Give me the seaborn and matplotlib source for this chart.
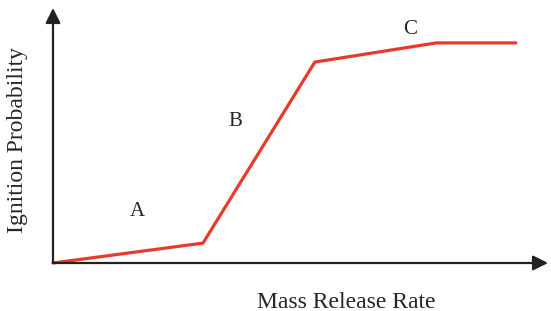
import pandas as pd
import matplotlib.pyplot as plt
import seaborn as sns

sns.set_style('white')
plt.rcParams['font.family'] = ['Liberation Serif', 'DejaVu Serif']

# curve corner points (arbitrary units, axes 0..10)
release_rate = [0, 3.03, 5.29, 7.74, 9.35]
ignition_prob = [0, 0.78, 7.88, 8.63, 8.63]
region_names = ['A', 'B', 'C']
region_x = [1.70, 3.68, 7.21]
region_y = [2.0, 5.53, 9.14]

df = pd.DataFrame({'rate': release_rate, 'prob': ignition_prob})

fig = plt.figure(figsize=(5.51, 3.11), dpi=100)
ax = fig.add_axes([53 / 551, (311 - 263) / 311, 495 / 551, 255 / 311])
sns.lineplot(data=df, x='rate', y='prob', color='#e63b2a', linewidth=2.3, ax=ax, clip_on=False)
ax.set_xlim(0, 10)
ax.set_ylim(0, 10)
for s in ax.spines.values():
    s.set_visible(False)
ax.set_xticks([])
ax.set_yticks([])
ax.set_xlabel('')
ax.set_ylabel('')

# axis arrows
arrow = dict(arrowstyle='-|>,head_length=0.9,head_width=0.45', color='#222222', lw=1.6, shrinkA=0, shrinkB=0)
ax.annotate('', xy=(10, 0), xytext=(0, 0), arrowprops=arrow, annotation_clip=False)
ax.annotate('', xy=(0, 10), xytext=(0, 0), arrowprops=arrow, annotation_clip=False)

for name, x, y in zip(region_names, region_x, region_y):
    ax.text(x, y, name, fontsize=15, ha='center', va='center')

fig.text(346 / 551, 1 - 302 / 311, 'Mass Release Rate', fontsize=17, ha='center', va='center')
fig.text(18 / 551, 1 - 140 / 311, 'Ignition Probability', fontsize=17, ha='center', va='center', rotation=90)

fig.savefig('out.png', dpi=100)
